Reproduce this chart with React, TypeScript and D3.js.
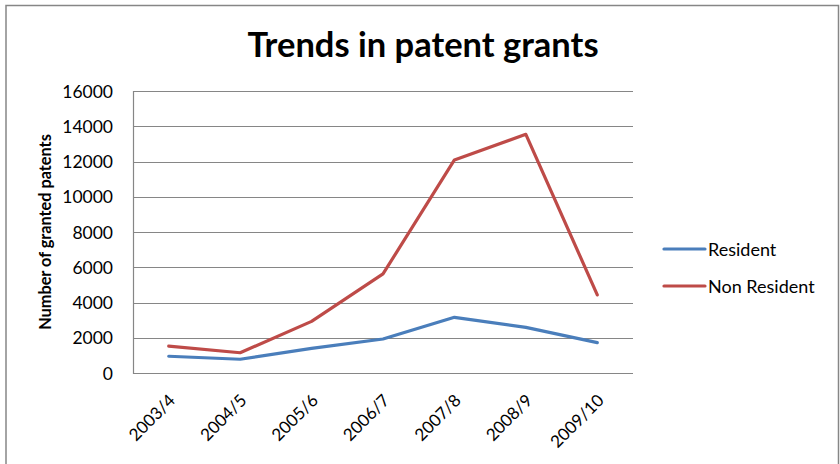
import React, { useEffect, useRef } from "react";
import * as d3 from "d3";

const years = ["2003/4", "2004/5", "2005/6", "2006/7", "2007/8", "2008/9", "2009/10"];
const resident = [950, 780, 1400, 1930, 3160, 2590, 1720];
const nonResident = [1530, 1150, 2930, 5620, 12090, 13540, 4430];
const yTicks = [0, 2000, 4000, 6000, 8000, 10000, 12000, 14000, 16000];

const seriesNames = ["Resident", "Non Resident"];
const seriesColors = ["#4A7EBB", "#BE4B48"];

const FONT = "Lato, 'Open Sans', sans-serif";

const App: React.FC = () => {
  const svgRef = useRef<SVGSVGElement>(null);

  useEffect(() => {
    if (!svgRef.current) return;
    const svg = d3.select(svgRef.current);
    svg.selectAll("*").remove();

    const width = 840;
    const height = 464;
    const plot = { left: 133, right: 633, top: 91, bottom: 373 };

    // outer chart border (bottom is cut off in the reference)
    svg
      .append("path")
      .attr("d", `M6,${height} V5.5 H838.5 V${height}`)
      .attr("fill", "none")
      .attr("stroke", "#868686")
      .attr("stroke-width", 1.5);

    const x = d3
      .scaleBand<string>()
      .domain(years)
      .range([plot.left, plot.right]);

    const y = d3
      .scaleLinear()
      .domain([0, 16000])
      .range([plot.bottom, plot.top]);

    // gridlines
    svg
      .append("g")
      .selectAll("line")
      .data(yTicks)
      .join("line")
      .attr("x1", plot.left)
      .attr("x2", plot.right)
      .attr("y1", (d) => Math.round(y(d)) + 0.5)
      .attr("y2", (d) => Math.round(y(d)) + 0.5)
      .attr("stroke", "#868686")
      .attr("stroke-width", 1.2);

    // left axis line
    svg
      .append("line")
      .attr("x1", plot.left + 0.5)
      .attr("x2", plot.left + 0.5)
      .attr("y1", plot.top)
      .attr("y2", plot.bottom + 1)
      .attr("stroke", "#868686")
      .attr("stroke-width", 1.2);

    // y tick labels
    svg
      .append("g")
      .selectAll("text")
      .data(yTicks)
      .join("text")
      .attr("x", 113)
      .attr("y", (d) => y(d))
      .attr("text-anchor", "end")
      .attr("dominant-baseline", "central")
      .style("font-family", FONT)
      .style("font-size", "17.5px")
      .style("fill", "#000")
      .text((d) => String(d));

    // y axis title
    svg
      .append("text")
      .attr("transform", "translate(51, 232) rotate(-90)")
      .attr("text-anchor", "middle")
      .style("font-family", FONT)
      .style("font-size", "16.3px")
      .style("font-weight", "bold")
      .style("fill", "#000")
      .text("Number of granted patents");

    // x tick labels, rotated
    svg
      .append("g")
      .selectAll("text")
      .data(years)
      .join("text")
      .attr("transform", (d) => {
        const cx = (x(d) ?? 0) + x.bandwidth() / 2 + 3;
        return `translate(${cx}, 397) rotate(-45)`;
      })
      .attr("text-anchor", "end")
      .attr("dominant-baseline", "central")
      .style("font-family", FONT)
      .style("font-size", "17px")
      .style("fill", "#000")
      .text((d) => d);

    // lines
    const line = d3
      .line<number>()
      .x((_, i) => (x(years[i]) ?? 0) + x.bandwidth() / 2)
      .y((d) => y(d));

    [resident, nonResident].forEach((vals, i) => {
      svg
        .append("path")
        .attr("d", line(vals) || "")
        .attr("fill", "none")
        .attr("stroke", seriesColors[i])
        .attr("stroke-width", 3.2)
        .attr("stroke-linejoin", "round")
        .attr("stroke-linecap", "round");
    });

    // title
    svg
      .append("text")
      .attr("x", 423)
      .attr("y", 57)
      .attr("text-anchor", "middle")
      .style("font-family", FONT)
      .style("font-size", "34.5px")
      .style("font-weight", "bold")
      .style("fill", "#000")
      .text("Trends in patent grants");

    // legend
    const legend = svg.append("g");
    seriesNames.forEach((name, i) => {
      const ly = 249 + i * 37;
      legend
        .append("line")
        .attr("x1", 664)
        .attr("x2", 705)
        .attr("y1", ly)
        .attr("y2", ly)
        .attr("stroke", seriesColors[i])
        .attr("stroke-width", 3.2)
        .attr("stroke-linecap", "round");
      legend
        .append("text")
        .attr("x", 708)
        .attr("y", ly)
        .attr("dominant-baseline", "central")
        .style("font-family", FONT)
        .style("font-size", "18px")
        .style("fill", "#000")
        .text(name);
    });

    svg.attr("width", width).attr("height", height);
  }, []);

  return (
    <svg
      ref={svgRef}
      width={840}
      height={464}
      style={{ position: "absolute", left: 0, top: 0, background: "#fff" }}
    />
  );
};

export default App;
